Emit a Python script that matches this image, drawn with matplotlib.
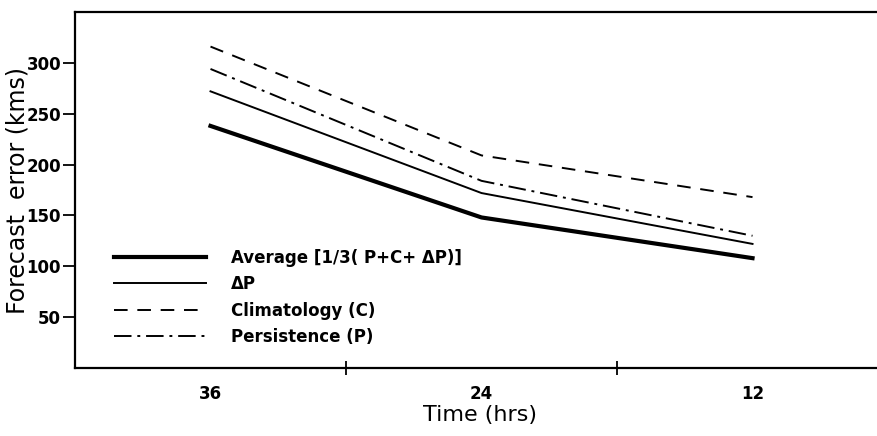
import matplotlib
matplotlib.use("Agg")
import matplotlib.pyplot as plt

# Forecast error (kms) against forecast time (hrs)
hours = [36, 24, 12]
average = [238, 148, 108]
delta_p = [272, 172, 122]
climatology = [316, 209, 168]
persistence = [294, 184, 130]

labels = ["Average [1/3( P+C+ \u0394P)]", "\u0394P", "Climatology (C)", "Persistence (P)"]
yticks = [50, 100, 150, 200, 250, 300]
xlabel_ticks = [36, 24, 12]
minor_ticks = [30, 18]

fig = plt.figure(figsize=(8.77, 4.36), dpi=100)
ax_w = 1 - 75 / 877 + 0.01
ax = fig.add_axes([75 / 877, 68 / 436, ax_w, (368 - 12) / 436])

ax.plot(hours, average, color="black", lw=3.0, label=labels[0])
ax.plot(hours, delta_p, color="black", lw=1.4, label=labels[1])
ax.plot(hours, climatology, color="black", lw=1.4, dashes=(7, 5), label=labels[2])
ax.plot(hours, persistence, color="black", lw=1.4, dashes=(9, 3, 1.5, 3), label=labels[3])

ax.set_xlim(42, 6.1)
ax.set_ylim(0, 350)

# labelled hours have no tick marks, the in-between ones do
ax.set_xticks(xlabel_ticks)
ax.set_xticklabels([str(h) for h in xlabel_ticks], fontsize=12, fontweight="bold")
ax.tick_params(axis="x", length=0, pad=12)
ax.set_xticks(minor_ticks, minor=True)
ax.tick_params(axis="x", which="minor", direction="inout", length=10, width=1.3)

ax.set_yticks(yticks)
ax.set_yticklabels([str(v) for v in yticks], fontsize=12, fontweight="bold")
ax.tick_params(axis="y", direction="out", length=9, width=1.3, pad=1)

for side in ["left", "bottom", "top"]:
    ax.spines[side].set_linewidth(1.6)
ax.spines["right"].set_visible(False)

ax.set_xlabel("Time (hrs)", fontsize=16, labelpad=2)
ax.set_ylabel("Forecast  error (kms)", fontsize=17)
ax.yaxis.set_label_coords(-46 / (877 * ax_w), 0.5)

leg = ax.legend(loc="lower left", bbox_to_anchor=(0.03, 0.02), frameon=False,
                handlelength=5.5, handletextpad=1.5, labelspacing=0.5,
                prop={"size": 12, "weight": "bold"})

fig.savefig("out.png", dpi=100)
